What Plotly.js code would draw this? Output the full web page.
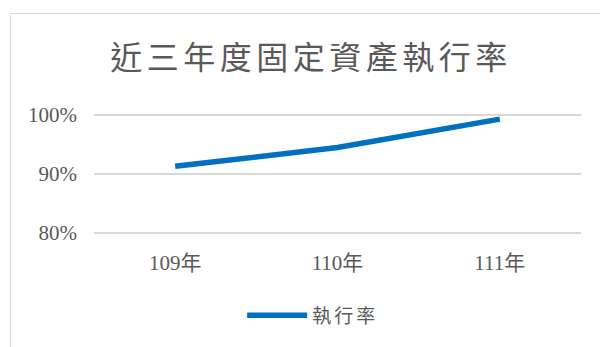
<!DOCTYPE html>
<html>
<head>
<meta charset="utf-8">
<script src="https://cdn.plot.ly/plotly-3.0.1.min.js"></script>
<style>
  html, body { margin: 0; padding: 0; background: #ffffff; }
  #wrap { position: relative; width: 600px; height: 347px; overflow: hidden; }
  #frame { position: absolute; left: 10px; top: 13px; width: 620px; height: 400px;
           border: 1px solid #d9d9d9; box-sizing: border-box; }
  #chart { position: absolute; left: 0; top: 0; width: 600px; height: 347px; }
  .gtitle { letter-spacing: 4.5px; }
  .legendtext { letter-spacing: 3px; }
</style>
</head>
<body>
<div id="wrap">
  <div id="frame"></div>
  <div id="chart"></div>
</div>
<script>
const chartTitle = '近三年度固定資產執行率';
const categories = ['109年', '110年', '111年'];
const seriesName = '執行率';
const rates = [0.913, 0.945, 0.993];
const yTickVals = [0.8, 0.9, 1.0];
const yTickText = ['80%', '90%', '100%'];

const textColor = '#595959';
const fontStack = 'Liberation Serif, Times New Roman, Noto Sans CJK TC, serif';

const trace = {
  x: categories,
  y: rates,
  name: seriesName,
  type: 'scatter',
  mode: 'lines',
  line: { color: '#0070C0', width: 5.5, shape: 'linear' },
  showlegend: true
};

const layout = {
  width: 600,
  height: 347,
  margin: { l: 94, r: 19, t: 112, b: 108, pad: 0 },
  paper_bgcolor: 'rgba(0,0,0,0)',
  plot_bgcolor: 'rgba(0,0,0,0)',
  title: {
    text: chartTitle,
    font: { family: 'Noto Sans CJK TC, sans-serif', size: 32, color: textColor },
    x: 311 / 600,
    xanchor: 'center',
    xref: 'container',
    y: 1 - 58 / 347,
    yanchor: 'middle',
    yref: 'container'
  },
  xaxis: {
    type: 'category',
    range: [-0.5, 2.5],
    showgrid: false,
    zeroline: false,
    showline: false,
    ticks: '',
    tickfont: { family: fontStack, size: 21, color: textColor },
    ticklabelstandoff: 12
  },
  yaxis: {
    range: [0.795, 1.005],
    tickvals: yTickVals,
    ticktext: yTickText,
    showgrid: true,
    gridcolor: '#d9d9d9',
    gridwidth: 1.2,
    zeroline: false,
    showline: false,
    ticks: '',
    tickfont: { family: fontStack, size: 21, color: textColor },
    ticklabelstandoff: 16
  },
  legend: {
    orientation: 'h',
    x: 0.45,
    xanchor: 'center',
    y: -0.64,
    yanchor: 'middle',
    itemwidth: 60,
    font: { family: 'Noto Sans CJK TC, sans-serif', size: 19, color: textColor },
    bgcolor: 'rgba(0,0,0,0)'
  },
  showlegend: true
};

Plotly.newPlot('chart', [trace], layout, { displayModeBar: false, staticPlot: true });
</script>
</body>
</html>
